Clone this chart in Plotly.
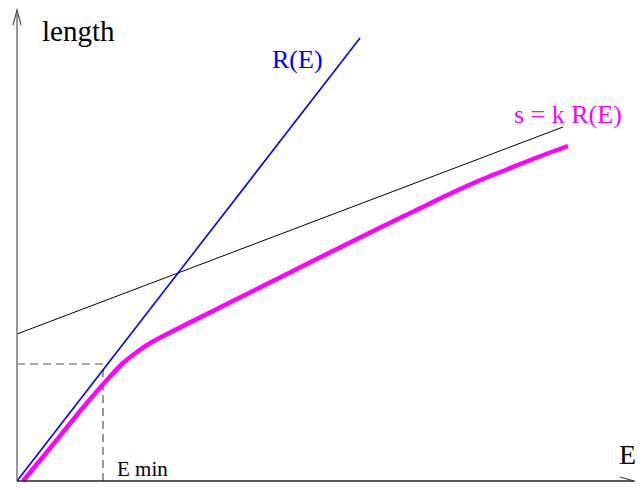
import plotly.graph_objects as go

# energy / length values, in drawing units
E_range = [0, 343]
R_range = [0, 443]

E_asym = [0, 546]
s_asym = [147, 354]

E_s = [6, 30, 55, 75, 90, 105, 120, 135, 156, 190, 230, 270, 330, 383, 416, 441, 466, 491, 516, 551]
s_vals = [0, 29, 60, 84, 101, 117, 129, 139, 150, 167, 187, 207, 237, 263, 279, 291, 302, 312, 322, 335]

E_min = 86
R_min = 117

X_END = 617
Y_END = 471

fig = go.Figure()

# dashed guide to E min
fig.add_trace(go.Scatter(
    x=[0, E_min, E_min], y=[R_min, R_min, 0],
    mode='lines', line=dict(color='#555555', width=1.2, dash='8px,5px'),
    hoverinfo='skip'
))

# asymptote
fig.add_trace(go.Scatter(
    x=E_asym, y=s_asym, mode='lines',
    line=dict(color='black', width=1), hoverinfo='skip'
))

# R(E)
fig.add_trace(go.Scatter(
    x=E_range, y=R_range, mode='lines',
    line=dict(color='#0000ff', width=1.6), hoverinfo='skip'
))

# s = k R(E)
fig.add_trace(go.Scatter(
    x=E_s, y=s_vals, mode='lines',
    line=dict(color='#ff00ff', width=4.5, shape='spline', smoothing=0.8),
    hoverinfo='skip'
))

# axes with open arrow heads
shapes = [
    dict(type='line', x0=0, y0=0, x1=0, y1=Y_END, line=dict(color='#777777', width=1.5)),
    dict(type='path', path=f'M -4,{Y_END - 15} L 0,{Y_END} L 4,{Y_END - 15}',
         line=dict(color='#555555', width=1.2)),
    dict(type='line', x0=0, y0=0, x1=X_END, y1=0, line=dict(color='#222222', width=1.5)),
    dict(type='path', path=f'M {X_END - 14},4 L {X_END},0 L {X_END - 14},-4',
         line=dict(color='#444444', width=1.2)),
]

serif = 'Liberation Serif, Times New Roman, serif'
annotations = [
    dict(x=23, y=450, text='length', xanchor='left', yanchor='middle', showarrow=False,
         font=dict(family=serif, size=29, color='black')),
    dict(x=253, y=422, text='R(E)', xanchor='left', yanchor='middle', showarrow=False,
         font=dict(family=serif, size=26, color='#0000ff')),
    dict(x=495, y=367, text='s = k R(E)', xanchor='left', yanchor='middle', showarrow=False,
         font=dict(family=serif, size=26, color='#ff00ff')),
    dict(x=600, y=27, text='E', xanchor='left', yanchor='middle', showarrow=False,
         font=dict(family=serif, size=28, color='black')),
    dict(x=98, y=12, text='E min', xanchor='left', yanchor='middle', showarrow=False,
         font=dict(family=serif, size=21, color='black')),
]

# the page body keeps an 8px margin; size the figure so the page never scrolls
fig.update_layout(
    width=628, height=474,
    margin=dict(l=0, r=0, t=0, b=0),
    paper_bgcolor='white', plot_bgcolor='white',
    showlegend=False,
    shapes=shapes,
    annotations=annotations,
    xaxis=dict(range=[-9, 619], visible=False, fixedrange=True),
    yaxis=dict(range=[-1, 473], visible=False, fixedrange=True),
)

fig.write_html("out.html")
